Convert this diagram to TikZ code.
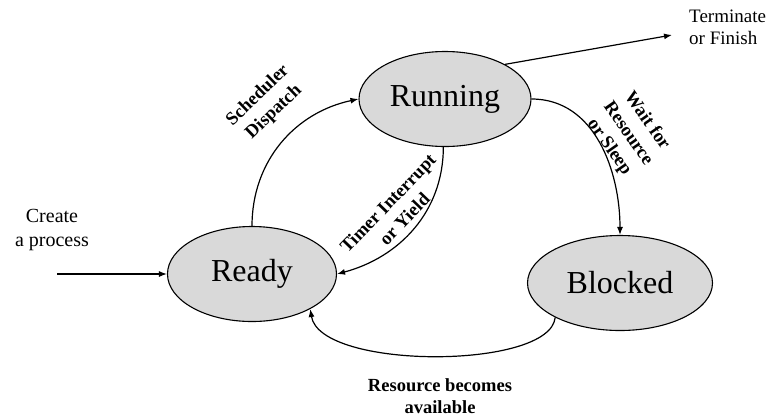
\documentclass[tikz,border=0pt]{standalone}
\usepackage{fontspec}
\setmainfont{Liberation Serif}
\usetikzlibrary{shapes.geometric,arrows.meta}
\begin{document}
\begin{tikzpicture}[x=1pt,y=1pt,
  state/.style={ellipse,draw=black,line width=1.1pt,fill=gray!30,inner sep=0pt,
    font=\fontsize{32}{38}\selectfont},
  conn/.style={line width=1.2pt,-{Latex[length=8pt,width=6pt]}},
  blabel/.style={align=center,inner sep=0pt,font=\fontsize{18.5}{21.5}\selectfont\bfseries},
  rlabel/.style={blabel,font=\fontsize{18.5}{23}\selectfont\bfseries},
  plabel/.style={inner sep=0pt,font=\fontsize{20}{24}\selectfont}]
\useasboundingbox (0,0) rectangle (767,-416);
\node[state,minimum width=172,minimum height=95] (running) at (445,-99) {Running};
\node[state,minimum width=169,minimum height=95] (ready) at (252,-274) {Ready};
\node[state,minimum width=185,minimum height=95] (blocked) at (620,-283) {Blocked};

\coordinate (create) at (57,-274);
\coordinate (term) at (672,-35);

\node[plabel,align=center] (createlbl) at (52,-230) {Create\\a process};
\node[plabel,align=left,anchor=west,font=\fontsize{19}{22}\selectfont] (termlbl) at (689,-27.5) {Terminate\\or Finish};

\draw[conn] (create) -- (ready.west);
\draw[conn] (ready.north) to[out=90,in=192] (running.west);
\draw[conn] (running.-92) to[out=-90,in=15] (ready.east);
\draw[conn] (running.east) to[out=0,in=90] (blocked.north);
\draw[conn] (running.30) -- (term);
\draw[conn] (blocked.208) .. controls (550,-370) and (320,-370) .. (ready.-31);

\node[rlabel,rotate=44] (sched) at (266,-104) {Scheduler\\Dispatch};
\node[rlabel,rotate=46] (timer) at (396,-211) {Timer Interrupt\\or Yield};
\node[rlabel,rotate=-55] (wait) at (628,-134) {Wait for\\Resource\\or Sleep};
\node[blabel] (avail) at (440,-396) {Resource becomes\\available};
\end{tikzpicture}
\end{document}
